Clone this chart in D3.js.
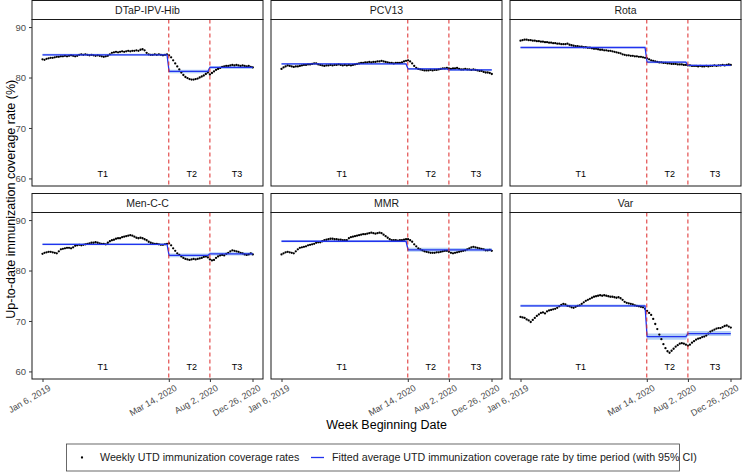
<!DOCTYPE html>
<html>
<head>
<meta charset="utf-8">
<script src="https://cdn.jsdelivr.net/npm/d3@7"></script>
<style>
  body { margin: 0; background: #fff; }
  text { font-family: "Liberation Sans", Arial, sans-serif; }
</style>
</head>
<body>
<div id="chart"></div>
<script>
// facets, in the order they are drawn
var vaccines = ["DTaP-IPV-Hib", "PCV13", "Rota", "Men-C-C", "MMR", "Var"];

var firstWeek = "2019-01-06";
var tickDates = ["2019-01-06", "2020-03-14", "2020-08-02", "2020-12-26"];
var tickLabels = ["Jan 6, 2019", "Mar 14, 2020", "Aug 2, 2020", "Dec 26, 2020"];
var cutDates = ["2020-03-14", "2020-08-02"];
var periodNames = ["T1", "T2", "T3"];
var periodLabelDates = ["2019-08-01", "2020-06-01", "2020-11-03"];
var yTicks = [60, 70, 80, 90];

// weekly UTD coverage (%), one value per week from Jan 6, 2019
var dtapRates = [
  83.6, 83.5, 83.7, 83.8, 83.9, 83.9, 84.0, 84.1, 84.1, 84.2, 84.2,
  84.3, 84.2, 84.3, 84.4, 84.3, 84.2, 84.3, 84.5, 84.6, 84.5,
  84.6, 84.5, 84.4, 84.5, 84.4, 84.3, 84.4, 84.3, 84.2, 84.1, 84.2, 84.3,
  84.6, 84.9, 85.0, 85.1, 85.0, 85.1, 85.2, 85.1, 85.2, 85.3, 85.2, 85.3, 85.3, 85.4, 85.3, 85.5, 85.6, 85.4,
  84.9, 84.6, 84.5, 84.5, 84.6, 84.5, 84.6, 84.5, 84.4, 84.5, 84.6,
  84.4, 84.0, 83.4, 82.8, 82.2, 81.6, 81.0, 80.5, 80.1, 79.9, 79.7, 79.6, 79.6, 79.7, 79.8, 80.0, 80.2, 80.4, 80.7, 81.0,
  80.6, 80.9, 81.2, 81.5, 81.7, 81.9, 82.1, 82.2, 82.3, 82.3, 82.4, 82.5, 82.4, 82.5, 82.4, 82.3, 82.4, 82.3, 82.2, 82.3, 82.1, 82.0
];
var pcvRates = [
  81.7, 82.0, 82.2, 82.4, 82.3, 82.2, 82.1, 82.2, 82.2, 82.3,
  82.4, 82.5, 82.5, 82.6, 82.6, 82.7, 82.8, 82.8, 82.6, 82.5,
  82.4, 82.3, 82.4, 82.4, 82.5, 82.4, 82.5, 82.5, 82.6, 82.5,
  82.4, 82.5, 82.4, 82.5, 82.4, 82.5, 82.6, 82.7, 82.8, 82.9,
  82.9, 83.0, 83.0, 83.1, 83.0, 83.1, 83.1, 83.2, 83.2, 83.3,
  83.2, 83.1, 83.0, 82.9, 82.9, 82.8, 82.9, 82.9, 82.9, 83.0,
  83.2, 83.3, 83.4, 83.2, 82.8, 82.3, 81.9, 81.7, 81.6, 81.5,
  81.4, 81.4, 81.4, 81.5, 81.4, 81.5, 81.5, 81.6, 81.7, 81.8,
  81.8, 81.9, 81.8, 81.7, 81.8, 81.8, 81.9, 81.7, 81.6, 81.6,
  81.7, 81.6, 81.6, 81.5, 81.6, 81.5, 81.4, 81.3, 81.3, 81.1,
  81.0, 81.0, 80.9, 80.7
];
var rotaRates = [
  87.3, 87.4, 87.5, 87.5, 87.4, 87.4, 87.3, 87.3, 87.2, 87.2,
  87.1, 87.1, 87.0, 87.0, 86.9, 86.9, 86.8, 86.8, 86.7, 86.7,
  86.6, 86.6, 86.6, 86.7, 86.5, 86.4, 86.3, 86.2, 86.2, 86.1,
  86.1, 86.0, 86.0, 85.9, 85.9, 85.8, 85.7, 85.7, 85.6, 85.5,
  85.5, 85.4, 85.4, 85.3, 85.3, 85.2, 85.1, 85.0, 84.9, 84.8,
  84.6, 84.5, 84.4, 84.4, 84.3, 84.3, 84.2, 84.2, 84.1, 84.1,
  84.0, 83.9, 83.8, 83.6, 83.4, 83.3, 83.2, 83.1, 83.0, 83.0,
  82.9, 82.9, 82.8, 82.8, 82.7, 82.7, 82.7, 82.6, 82.6, 82.6,
  82.5, 82.5, 82.4, 82.4, 82.3, 82.3, 82.3, 82.2, 82.3, 82.2,
  82.2, 82.3, 82.2, 82.3, 82.3, 82.4, 82.3, 82.4, 82.4, 82.5,
  82.4, 82.5, 82.6, 82.5
];
var mencRates = [
  83.3, 83.5, 83.6, 83.7, 83.7, 83.6, 83.5, 83.4, 83.8, 84.2,
  84.3, 84.4, 84.5, 84.5, 84.4, 84.6, 84.9, 85.0, 85.1, 85.0,
  85.1, 85.2, 85.3, 85.4, 85.5, 85.5, 85.6, 85.5, 85.4, 85.3,
  85.3, 85.2, 85.5, 85.8, 86.0, 86.1, 86.3, 86.4, 86.4, 86.6,
  86.7, 86.8, 86.9, 87.0, 86.9, 86.7, 86.5, 86.4, 86.5, 86.4,
  86.2, 86.0, 85.7, 85.5, 85.4, 85.3, 85.3, 85.2, 85.1, 85.1,
  85.2, 85.3, 85.4, 85.0, 84.4, 83.9, 83.4, 83.1, 82.8, 82.5,
  82.3, 82.2, 82.1, 82.2, 82.3, 82.2, 82.3, 82.4, 82.5, 82.7,
  82.8, 82.6, 82.2, 82.0, 82.1, 82.5, 82.8, 83.0, 83.1, 83.0,
  83.3, 83.5, 83.8, 84.0, 83.9, 83.8, 83.7, 83.5, 83.4, 83.2,
  83.1, 83.2, 83.4, 83.2
];
var mmrRates = [
  83.2, 83.4, 83.6, 83.7, 83.6, 83.5, 83.4, 83.8, 84.2, 84.5,
  84.6, 84.7, 84.8, 85.0, 85.1, 85.2, 85.3, 85.5, 85.6, 85.6,
  85.8, 86.0, 86.1, 86.2, 86.3, 86.3, 86.2, 86.2, 86.1, 86.1,
  86.0, 86.0, 86.0, 86.4, 86.6, 86.7, 86.8, 86.9, 87.0, 87.1,
  87.2, 87.2, 87.3, 87.4, 87.5, 87.4, 87.3, 87.4, 87.5, 87.4,
  87.1, 86.8, 86.5, 86.2, 86.0, 86.0, 86.0, 85.9, 86.0, 86.0,
  86.1, 86.2, 86.2, 86.0, 85.7, 85.2, 84.8, 84.4, 84.2, 84.0,
  83.8, 83.7, 83.6, 83.5, 83.5, 83.5, 83.6, 83.6, 83.7, 83.8,
  83.9, 83.9, 83.7, 83.5, 83.4, 83.5, 83.6, 83.7, 83.8, 83.9,
  84.0, 84.2, 84.4, 84.6, 84.7, 84.6, 84.5, 84.4, 84.3, 84.2,
  84.0, 84.0, 84.1, 83.9
];
var varRates = [
  70.8, 70.7, 70.6, 70.3, 70.1, 69.8, 70.2, 70.6, 71.0, 71.3,
  71.6, 71.7, 71.5, 71.9, 72.1, 72.2, 72.3, 72.4, 72.6, 72.9,
  73.2, 73.4, 73.3, 73.0, 72.9, 72.7, 72.6, 72.8, 73.0, 73.1,
  73.4, 73.7, 74.0, 74.2, 74.4, 74.6, 74.8, 74.9, 75.0, 75.1,
  75.0, 75.1, 75.0, 74.9, 74.8, 74.8, 74.7, 74.6, 74.7, 74.5,
  74.2, 73.8, 73.6, 73.5, 73.4, 73.3, 73.1, 73.0, 72.9, 72.8,
  72.7, 72.4, 72.0, 71.6, 71.2, 70.4, 69.4, 68.4, 67.3, 66.4,
  65.4, 64.6, 64.0, 63.7, 64.1, 64.5, 64.9, 65.2, 65.5, 65.6,
  65.5, 65.3, 65.1, 65.3, 65.7, 66.0, 66.3, 66.5, 66.6, 66.8,
  66.9, 67.1, 67.5, 67.9, 68.1, 68.3, 68.5, 68.6, 68.6, 68.8,
  69.0, 69.1, 68.9, 68.7
];
var rates = [dtapRates, pcvRates, rotaRates, mencRates, mmrRates, varRates];

// fitted period averages T1, T2, T3 with 95% CI
var fitMean = [[84.5, 81.2, 82.0], [82.7, 81.7, 81.5], [85.95, 83.05, 82.4],
               [85.2, 83.0, 83.3], [85.8, 84.1, 84.1], [73.0, 66.9, 67.5]];
var fitLow  = [[84.3, 80.85, 81.7], [82.55, 81.5, 81.3], [85.8, 82.85, 82.25],
               [85.0, 82.65, 83.0], [85.6, 83.7, 83.75], [72.75, 66.3, 67.0]];
var fitHigh = [[84.7, 81.55, 82.3], [82.85, 81.9, 81.7], [86.1, 83.25, 82.55],
               [85.4, 83.35, 83.6], [86.0, 84.5, 84.45], [73.25, 67.5, 68.0]];

var svgWidth = 744;
var svgHeight = 473;

var panelW = 231;
var panelH = 166.5;
var stripH = 19;
var colX = [32, 271, 510];
var rowY = [0.5, 193.5];

var fitColor = "#2233ee";

var parseDate = d3.timeParse("%Y-%m-%d");
var start = parseDate(firstWeek);
var weeks = dtapRates.map((v, i) => d3.timeDay.offset(start, 7 * i));
var cuts = cutDates.map(parseDate);

function periodOf(date) {
  if (date <= cuts[0]) return 0;
  if (date < cuts[1]) return 1;
  return 2;
}

var x = d3.scaleTime()
  .domain([d3.timeDay.offset(start, -36), d3.timeDay.offset(parseDate(tickDates[3]), 36)])
  .range([0, panelW]);

var y = d3.scaleLinear()
  .domain([58.5, 91.5])
  .range([panelH, 0]);

var svg = d3.select("#chart")
  .append("svg")
  .attr("width", svgWidth)
  .attr("height", svgHeight);

svg.append("rect")
  .attr("width", svgWidth)
  .attr("height", svgHeight)
  .attr("fill", "white");

vaccines.forEach(function(name, i) {
  var col = i % 3;
  var row = Math.floor(i / 3);
  var g = svg.append("g")
    .attr("transform", `translate(${colX[col]}, ${rowY[row] + stripH})`);

  // strip
  g.append("rect")
    .attr("x", 0)
    .attr("y", -stripH)
    .attr("width", panelW)
    .attr("height", stripH)
    .attr("fill", "white")
    .attr("stroke", "#1a1a1a")
    .attr("stroke-width", 1);

  g.append("text")
    .attr("x", panelW / 2)
    .attr("y", -stripH / 2)
    .attr("dy", "0.35em")
    .attr("text-anchor", "middle")
    .attr("font-size", "10.5px")
    .attr("fill", "#1a1a1a")
    .text(name);

  var data = weeks.map(function(d, k) {
    var p = periodOf(d);
    return {date: d, rate: rates[i][k], fit: fitMean[i][p], lo: fitLow[i][p], hi: fitHigh[i][p]};
  });

  // CI band
  g.append("path")
    .datum(data)
    .attr("fill", "#a8c8f5")
    .attr("opacity", 0.85)
    .attr("d", d3.area()
      .x(d => x(d.date))
      .y0(d => y(d.lo))
      .y1(d => y(d.hi)));

  // weekly points
  g.selectAll("circle")
    .data(data)
    .enter()
    .append("circle")
    .attr("cx", d => x(d.date))
    .attr("cy", d => y(d.rate))
    .attr("r", 1.15)
    .attr("fill", "black");

  // fitted line
  g.append("path")
    .datum(data)
    .attr("fill", "none")
    .attr("stroke", fitColor)
    .attr("stroke-width", 1.3)
    .attr("d", d3.line()
      .x(d => x(d.date))
      .y(d => y(d.fit)));

  // period cut lines
  g.selectAll(".cut")
    .data(cuts)
    .enter()
    .append("line")
    .attr("class", "cut")
    .attr("x1", d => x(d))
    .attr("x2", d => x(d))
    .attr("y1", 0)
    .attr("y2", panelH)
    .attr("stroke", "#dd2a2a")
    .attr("stroke-width", 1)
    .attr("stroke-dasharray", "4,3");

  // T1/T2/T3
  g.selectAll(".plabel")
    .data(periodNames)
    .enter()
    .append("text")
    .attr("class", "plabel")
    .attr("x", (d, k) => x(parseDate(periodLabelDates[k])))
    .attr("y", y(61))
    .attr("dy", "0.35em")
    .attr("text-anchor", "middle")
    .attr("font-size", "9px")
    .attr("fill", "black")
    .text(d => d);

  // panel border
  g.append("rect")
    .attr("width", panelW)
    .attr("height", panelH)
    .attr("fill", "none")
    .attr("stroke", "#1a1a1a")
    .attr("stroke-width", 1);

  if (col === 0) {
    var yAxis = g.append("g")
      .call(d3.axisLeft(y).tickValues(yTicks).tickSize(3));
    yAxis.select(".domain").remove();
    yAxis.selectAll("line").attr("stroke", "#333");
    yAxis.selectAll("text")
      .attr("font-size", "9.5px")
      .attr("font-family", null)
      .attr("fill", "#4d4d4d");
  }

  if (row === 1) {
    var xAxis = g.append("g")
      .attr("transform", `translate(0, ${panelH})`)
      .call(d3.axisBottom(x)
        .tickValues(tickDates.map(parseDate))
        .tickFormat((d, k) => tickLabels[k])
        .tickSize(3));
    xAxis.select(".domain").remove();
    xAxis.selectAll("line").attr("stroke", "#333");
    xAxis.selectAll("text")
      .attr("font-size", "9px")
      .attr("font-family", null)
      .attr("fill", "#4d4d4d")
      .attr("text-anchor", "end")
      .attr("x", 0)
      .attr("y", 0)
      .attr("dy", "0.75em")
      .attr("transform", "translate(5, 5) rotate(-30)");
  }
});

// axis titles
svg.append("text")
  .attr("x", (colX[0] + colX[2] + panelW) / 2)
  .attr("y", 425)
  .attr("dy", "0.35em")
  .attr("text-anchor", "middle")
  .attr("font-size", "12.5px")
  .attr("fill", "black")
  .text("Week Beginning Date");

svg.append("text")
  .attr("transform", `translate(11, ${(rowY[0] + stripH + rowY[1] + stripH + panelH) / 2}) rotate(-90)`)
  .attr("dy", "0.35em")
  .attr("text-anchor", "middle")
  .attr("font-size", "12.5px")
  .attr("fill", "black")
  .text("Up-to-date immunization coverage rate (%)");

// legend
var legend = svg.append("g");
legend.append("rect")
  .attr("x", 66.5)
  .attr("y", 444)
  .attr("width", 613)
  .attr("height", 27)
  .attr("fill", "white")
  .attr("stroke", "#444")
  .attr("stroke-width", 0.8);

legend.append("circle")
  .attr("cx", 82)
  .attr("cy", 457.5)
  .attr("r", 1.15)
  .attr("fill", "black");

legend.append("text")
  .attr("x", 100)
  .attr("y", 457.5)
  .attr("dy", "0.35em")
  .attr("font-size", "10.7px")
  .attr("fill", "#1a1a1a")
  .text("Weekly UTD immunization coverage rates");

legend.append("line")
  .attr("x1", 311)
  .attr("x2", 324)
  .attr("y1", 457.5)
  .attr("y2", 457.5)
  .attr("stroke", fitColor)
  .attr("stroke-width", 1.3);

legend.append("text")
  .attr("x", 332)
  .attr("y", 457.5)
  .attr("dy", "0.35em")
  .attr("font-size", "10.7px")
  .attr("fill", "#1a1a1a")
  .text("Fitted average UTD immunization coverage rate by time period (with 95% CI)");
</script>
</body>
</html>
